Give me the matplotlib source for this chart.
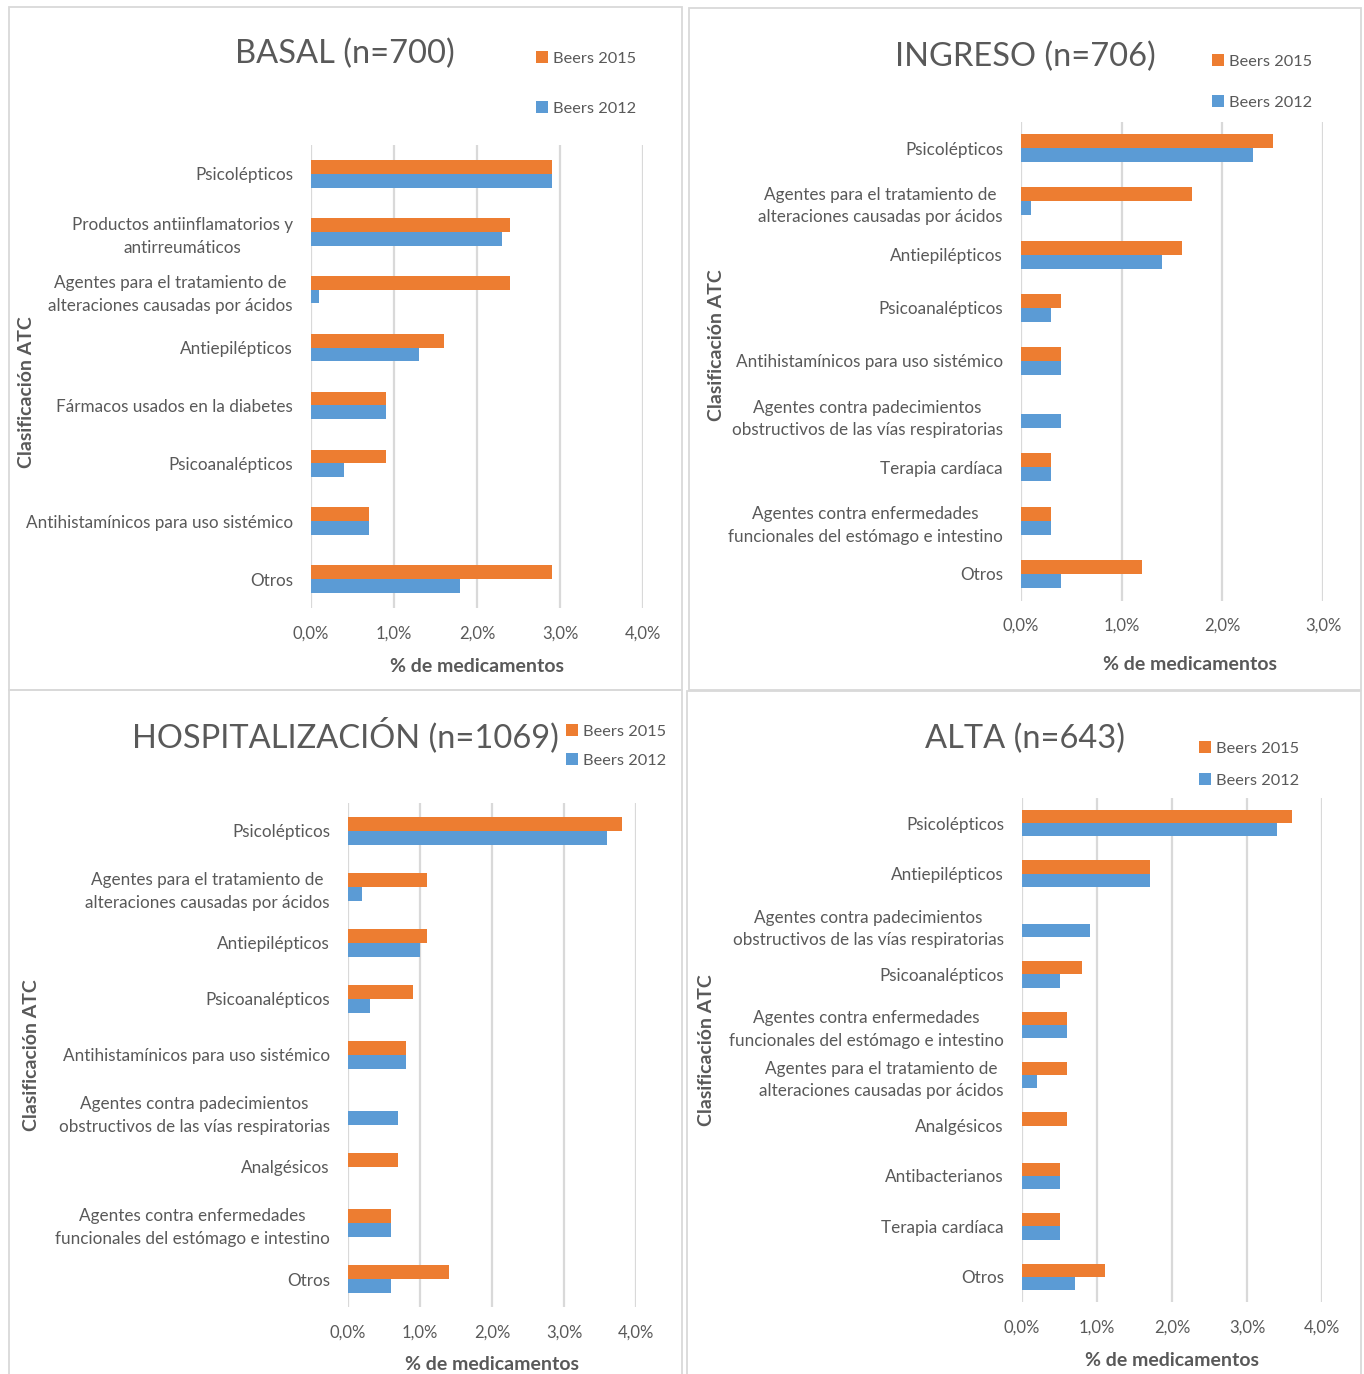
import matplotlib
matplotlib.use("Agg")
import matplotlib.pyplot as plt
from matplotlib.patches import Rectangle
from matplotlib.ticker import FuncFormatter
import numpy as np

plt.rcParams['font.family'] = ['Lato', 'DejaVu Sans']

# ---- data (% de medicamentos) ----
series_names = ["Beers 2015", "Beers 2012"]

basal_cats = ["Psicolépticos",
              "Productos antiinflamatorios y\nantirreumáticos",
              "Agentes para el tratamiento de\nalteraciones causadas por ácidos",
              "Antiepilépticos",
              "Fármacos usados en la diabetes",
              "Psicoanalépticos",
              "Antihistamínicos para uso sistémico",
              "Otros"]
basal_2015 = [2.9, 2.4, 2.4, 1.6, 0.9, 0.9, 0.7, 2.9]
basal_2012 = [2.9, 2.3, 0.1, 1.3, 0.9, 0.4, 0.7, 1.8]

ingreso_cats = ["Psicolépticos",
                "Agentes para el tratamiento de\nalteraciones causadas por ácidos",
                "Antiepilépticos",
                "Psicoanalépticos",
                "Antihistamínicos para uso sistémico",
                "Agentes contra padecimientos\nobstructivos de las vías respiratorias",
                "Terapia cardíaca",
                "Agentes contra enfermedades\nfuncionales del estómago e intestino",
                "Otros"]
ingreso_2015 = [2.5, 1.7, 1.6, 0.4, 0.4, 0.0, 0.3, 0.3, 1.2]
ingreso_2012 = [2.3, 0.1, 1.4, 0.3, 0.4, 0.4, 0.3, 0.3, 0.4]

hosp_cats = ["Psicolépticos",
             "Agentes para el tratamiento de\nalteraciones causadas por ácidos",
             "Antiepilépticos",
             "Psicoanalépticos",
             "Antihistamínicos para uso sistémico",
             "Agentes contra padecimientos\nobstructivos de las vías respiratorias",
             "Analgésicos",
             "Agentes contra enfermedades\nfuncionales del estómago e intestino",
             "Otros"]
hosp_2015 = [3.8, 1.1, 1.1, 0.9, 0.8, 0.0, 0.7, 0.6, 1.4]
hosp_2012 = [3.6, 0.2, 1.0, 0.3, 0.8, 0.7, 0.0, 0.6, 0.6]

alta_cats = ["Psicolépticos",
             "Antiepilépticos",
             "Agentes contra padecimientos\nobstructivos de las vías respiratorias",
             "Psicoanalépticos",
             "Agentes contra enfermedades\nfuncionales del estómago e intestino",
             "Agentes para el tratamiento de\nalteraciones causadas por ácidos",
             "Analgésicos",
             "Antibacterianos",
             "Terapia cardíaca",
             "Otros"]
alta_2015 = [3.6, 1.7, 0.0, 0.8, 0.6, 0.6, 0.6, 0.5, 0.5, 1.1]
alta_2012 = [3.4, 1.7, 0.9, 0.5, 0.6, 0.2, 0.0, 0.5, 0.5, 0.7]

titles = ["BASAL (n=700)", "INGRESO (n=706)",
          "HOSPITALIZACIÓN (n=1069)", "ALTA (n=643)"]
xmax = [4.0, 3.0, 4.0, 4.0]
xlabel = "% de medicamentos"
ylabel = "Clasificación ATC"

# ---- style ----
ORANGE = "#ED7D31"
BLUE = "#5B9BD5"
TEXT = "#595959"
GRID = "#d9d9d9"

W, H = 1364, 1374
fig = plt.figure(figsize=(W / 100, H / 100), dpi=100)
fig.patch.set_facecolor("white")


def fx(x):
    return x / W


def fy(y):
    return 1 - y / H


# panel frames (pixel boxes: left, top, right, bottom)
frames = [(9, 7, 682, 690), (689, 8, 1361, 690),
          (9, 690, 682, 1380), (687, 691, 1361, 1380)]
for l, t, r, b in frames:
    fig.add_artist(Rectangle((fx(l), fy(b)), fx(r - l), (b - t) / H,
                             transform=fig.transFigure, fill=False,
                             edgecolor=GRID, linewidth=1.3))

panels = [
    dict(cats=basal_cats, s15=basal_2015, s12=basal_2012,
         box=(311, 643, 145, 608), bar_px=13.8,
         title_xy=(345, 54), leg_xy=(536, 51), leg_sp=2.15,
         xl_xy=(477, 666), yl_xy=(27, 392)),
    dict(cats=ingreso_cats, s15=ingreso_2015, s12=ingreso_2012,
         box=(1021, 1323, 121.5, 600.5), bar_px=14,
         title_xy=(1025, 57), leg_xy=(1212, 54), leg_sp=1.6,
         xl_xy=(1190, 664), yl_xy=(716, 345)),
    dict(cats=hosp_cats, s15=hosp_2015, s12=hosp_2012,
         box=(348, 636, 803, 1307), bar_px=13.7,
         title_xy=(345, 735), leg_xy=(566, 724), leg_sp=0.9,
         xl_xy=(492, 1365), yl_xy=(32, 1055)),
    dict(cats=alta_cats, s15=alta_2015, s12=alta_2012,
         box=(1022, 1322, 798, 1302), bar_px=13.3,
         title_xy=(1025, 739), leg_xy=(1199, 741), leg_sp=1.05,
         xl_xy=(1172, 1360), yl_xy=(706, 1050)),
]

for p, title, xm in zip(panels, titles, xmax):
    x0, x1, yt, yb = p["box"]
    ax = fig.add_axes([fx(x0), fy(yb), fx(x1 - x0), (yb - yt) / H])
    n = len(p["cats"])
    y = np.arange(n)
    band_px = (yb - yt) / n
    h = p["bar_px"] / band_px
    b15 = ax.barh(y - h / 2, p["s15"], height=h, color=ORANGE,
                  label=series_names[0], zorder=3)
    b12 = ax.barh(y + h / 2, p["s12"], height=h, color=BLUE,
                  label=series_names[1], zorder=3)
    ax.set_ylim(n - 0.5, -0.5)
    ax.set_xlim(0, xm)
    ax.set_xticks(np.arange(0, xm + 0.01, 1.0))
    ax.xaxis.set_major_formatter(
        FuncFormatter(lambda v, pos: f"{v:.1f}%".replace(".", ",")))
    ax.set_yticks(y)
    ax.set_yticklabels(p["cats"], multialignment="center", linespacing=1.5)
    ax.tick_params(axis="y", length=0, pad=13, labelsize=12.3,
                   labelcolor=TEXT)
    ax.tick_params(axis="x", length=0, pad=12.5, labelsize=12,
                   labelcolor=TEXT)
    for s in ax.spines.values():
        s.set_visible(False)
    ax.grid(axis="x", color=GRID, linewidth=1.6, zorder=0)
    ax.set_axisbelow(True)

    fig.text(fx(p["title_xy"][0]), fy(p["title_xy"][1]), title,
             ha="center", va="center", fontsize=23.5, color=TEXT)
    fig.text(fx(p["xl_xy"][0]), fy(p["xl_xy"][1]), xlabel,
             ha="center", va="center", fontsize=14, color=TEXT,
             fontweight="bold")
    fig.text(fx(p["yl_xy"][0]), fy(p["yl_xy"][1]), ylabel,
             ha="center", va="center", fontsize=14, color=TEXT,
             fontweight="bold", rotation=90)
    fig.legend(handles=[b15, b12], loc="upper left",
               bbox_to_anchor=(fx(p["leg_xy"][0]), fy(p["leg_xy"][1])),
               frameon=False, fontsize=11.8, labelcolor=TEXT,
               handlelength=0.75, handleheight=0.75, handletextpad=0.3,
               borderpad=0, borderaxespad=0, labelspacing=p["leg_sp"])

fig.savefig("out.png", dpi=100, facecolor="white")
